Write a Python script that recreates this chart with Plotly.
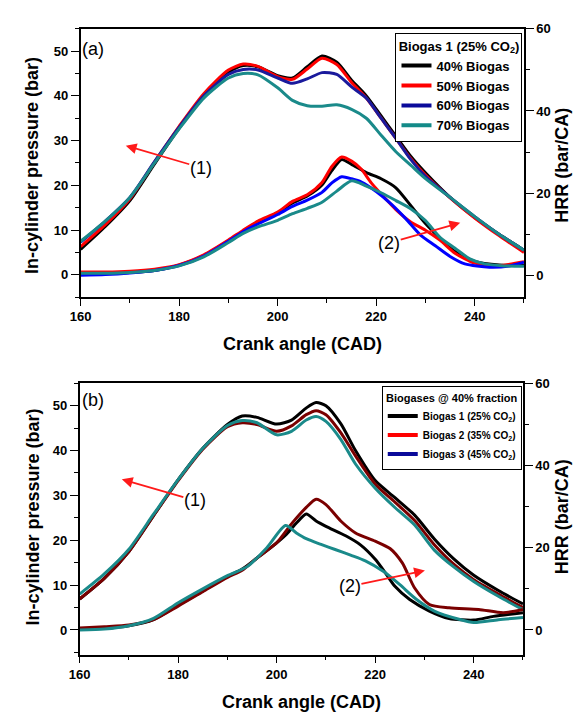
import plotly.graph_objects as go

W, H = 574, 716

# ---------------- Panel (a): Biogas 1 (25% CO2) at different fractions ----------------
a_legend_names = ["40% Biogas", "50% Biogas", "60% Biogas", "70% Biogas"]

# In-cylinder pressure (bar)
a_p_x = [160, 165, 170, 175, 180, 185, 190, 193, 196, 200, 203, 206, 209, 212, 215, 218, 221, 224, 227, 230, 235, 240, 245, 250]
a_p_40 = [5.7, 10.8, 16.6, 24.8, 32.8, 40.0, 45.3, 46.8, 46.5, 44.5, 44.0, 46.5, 48.9, 47.5, 43.5, 40.0, 35.5, 31.0, 26.5, 22.8, 17.3, 12.8, 9.0, 5.5]
a_p_50 = [6.3, 11.2, 17.0, 25.2, 33.2, 40.5, 45.8, 47.1, 46.6, 44.3, 43.7, 46.0, 48.4, 47.0, 43.0, 39.5, 35.0, 30.5, 26.0, 22.3, 17.2, 12.7, 8.7, 5.0]
a_p_60 = [7.3, 12.0, 17.3, 25.3, 33.0, 40.0, 44.8, 45.9, 45.8, 44.0, 42.8, 43.8, 45.2, 44.8, 42.0, 39.5, 35.0, 30.5, 25.8, 22.0, 17.3, 13.0, 9.0, 5.5]
a_p_70 = [7.5, 12.0, 17.3, 25.0, 32.6, 39.5, 44.0, 45.0, 44.7, 41.8, 39.0, 37.8, 37.7, 38.0, 37.0, 35.0, 31.2, 27.5, 24.5, 21.5, 17.3, 13.0, 9.0, 5.5]

# Heat release rate (bar/CA)
a_h40_x = [160, 165, 170, 175, 180, 185, 190, 193, 196, 200, 203, 206, 209, 211, 213, 215, 218, 221, 224, 227, 230, 233, 236, 240, 245, 250]
a_h40 = [0.5, 0.5, 0.7, 1.2, 2.5, 4.8, 8.4, 10.8, 13.0, 15.2, 17.6, 19.3, 22.0, 25.5, 28.2, 27.0, 25.0, 23.5, 21.3, 17.0, 12.6, 9.0, 5.8, 3.4, 2.5, 2.4]
a_h50_x = [160, 165, 170, 175, 180, 185, 190, 193, 196, 200, 203, 206, 209, 211, 213, 215, 217, 219, 222, 224, 227, 230, 233, 236, 240, 245, 250]
a_h50 = [0.8, 0.8, 1.0, 1.5, 2.6, 5.0, 8.6, 11.0, 13.2, 15.4, 18.0, 19.6, 22.6, 26.5, 28.8, 27.8, 25.8, 22.5, 18.5, 16.0, 13.0, 11.0, 8.5, 5.4, 3.0, 2.4, 3.3]
a_h60_x = [160, 165, 170, 175, 180, 185, 190, 193, 196, 200, 203, 206, 209, 211, 213, 215, 217, 220, 223, 226, 229, 232, 235, 238, 243, 247, 250]
a_h60 = [0.0, 0.2, 0.6, 1.2, 2.4, 4.7, 8.3, 10.6, 12.5, 14.8, 16.8, 18.3, 20.2, 22.5, 24.0, 23.5, 22.7, 20.4, 17.4, 13.8, 9.8, 7.2, 4.6, 2.8, 2.0, 2.3, 3.2]
a_h70_x = [160, 165, 170, 175, 180, 185, 190, 193, 196, 200, 203, 206, 209, 212, 215, 218, 221, 224, 227, 230, 233, 236, 239, 242, 246, 250]
a_h70 = [0.5, 0.5, 0.7, 1.2, 2.3, 4.5, 8.0, 10.2, 11.8, 13.4, 15.0, 16.3, 17.8, 20.5, 23.0, 21.7, 20.1, 18.2, 16.2, 13.3, 9.2, 6.6, 4.0, 2.8, 2.3, 2.2]

# ---------------- Panel (b): Biogases @ 40% fraction ----------------
b_legend_names = ["Biogas 1 (25% CO<sub>2</sub>)", "Biogas 2 (35% CO<sub>2</sub>)", "Biogas 3 (45% CO<sub>2</sub>)"]

b_p_x = [160, 165, 170, 175, 180, 185, 190, 193, 196, 200, 203, 206, 208, 210, 213, 216, 220, 224, 228, 232, 236, 240, 245, 250]
b_p_1 = [6.9, 11.5, 17.5, 25.5, 33.5, 40.5, 45.8, 47.7, 47.4, 45.9, 46.8, 49.5, 50.7, 50.0, 46.0, 40.0, 33.3, 29.5, 25.6, 20.3, 15.8, 12.2, 8.8, 5.8]
b_p_2 = [6.9, 11.5, 17.5, 25.5, 33.3, 40.3, 45.3, 46.2, 45.8, 44.3, 45.5, 48.0, 48.9, 48.0, 44.0, 38.8, 32.5, 28.5, 24.4, 19.0, 14.6, 11.2, 8.0, 5.0]
b_p_3 = [8.0, 12.5, 18.0, 25.8, 33.5, 40.5, 45.6, 46.7, 46.2, 43.5, 44.3, 46.8, 47.6, 46.5, 42.5, 37.0, 31.6, 27.3, 23.4, 17.8, 14.0, 10.8, 7.5, 4.5]

b_h1_x = [160, 165, 170, 175, 180, 185, 190, 193, 196, 199, 202, 204, 206, 208, 210, 214, 217, 220, 222, 224, 227, 231, 235, 240, 244, 250]
b_h1 = [0.2, 0.4, 1.0, 2.5, 6.0, 9.5, 13.0, 14.8, 17.5, 20.2, 23.3, 26.0, 28.2, 26.5, 25.2, 22.9, 20.7, 17.2, 14.0, 10.6, 7.4, 4.6, 2.8, 2.4, 3.3, 4.2]
b_h2_x = [160, 165, 170, 175, 180, 185, 190, 193, 196, 200, 203, 206, 208, 210, 213, 216, 220, 223, 225.5, 228, 231, 235, 241, 246, 250]
b_h2 = [0.5, 0.8, 1.2, 2.5, 5.8, 9.3, 12.8, 14.5, 17.5, 21.2, 25.8, 29.8, 31.8, 30.5, 26.5, 23.6, 21.6, 19.8, 16.3, 10.2, 6.2, 5.4, 5.0, 4.2, 5.0]
b_h3_x = [160, 165, 170, 175, 180, 185, 190, 194, 198, 201.8, 204, 206, 209, 212, 215, 218, 221.7, 225, 228.4, 232, 237, 240, 245, 250]
b_h3 = [0.0, 0.2, 1.0, 2.8, 6.6, 10.0, 13.2, 15.4, 20.0, 25.4, 23.6, 22.2, 20.8, 19.5, 18.2, 16.8, 14.2, 11.0, 7.4, 4.6, 2.6, 1.8, 2.5, 3.0]

x_ticks = [160, 180, 200, 220, 240]

# ---------------- helpers ----------------
FONT = "Liberation Sans Narrow, Arial Narrow, Liberation Sans, Arial"


def px_x(x):
    return x / W


def px_y(y):
    return 1 - y / H


fig = go.Figure()


def curve(x, y, color, xa, ya, width=3):
    fig.add_trace(go.Scatter(x=x, y=y, mode="lines", xaxis=xa, yaxis=ya,
                             line=dict(color=color, width=width, shape="spline", smoothing=0.7),
                             showlegend=False, hoverinfo="skip"))


# panel (a) colours
a_p_colors = ["#000000", "#ff0000", "#1a1a9c", "#1a8a8a"]
a_h_colors = ["#000000", "#ff0000", "#0000ff", "#1a8a8a"]
a_leg_colors = ["#000000", "#ff0000", "#0a0a9a", "#138a88"]

for ys, c in zip([a_p_40, a_p_50, a_p_60, a_p_70], a_p_colors):
    curve(a_p_x, ys, c, "x", "y")
for xs, ys, c in zip([a_h40_x, a_h50_x, a_h60_x, a_h70_x], [a_h40, a_h50, a_h60, a_h70], a_h_colors):
    curve(xs, ys, c, "x", "y2")

# panel (b) colours
b_colors = ["#000000", "#7a0000", "#1a8a8a"]
b_leg_colors = ["#000000", "#ff0000", "#0a0a9a"]
for ys, c in zip([b_p_1, b_p_2, b_p_3], b_colors):
    curve(b_p_x, ys, c, "x2", "y3")
for xs, ys, c in zip([b_h1_x, b_h2_x, b_h3_x], [b_h1, b_h2, b_h3], b_colors):
    curve(xs, ys, c, "x2", "y4")

# legend entries
for name, c in zip(a_legend_names, a_leg_colors):
    fig.add_trace(go.Scatter(x=[None], y=[None], mode="lines", name=name, xaxis="x", yaxis="y",
                             line=dict(color=c, width=4), legend="legend"))
for name, c in zip(b_legend_names, b_leg_colors):
    fig.add_trace(go.Scatter(x=[None], y=[None], mode="lines", name=name, xaxis="x2", yaxis="y3",
                             line=dict(color=c, width=4), legend="legend2"))

tickfont = dict(family=FONT, size=13, color="black", weight="bold")
common_x = dict(range=[160, 250], tickvals=x_ticks, ticks="outside", ticklen=7, tickwidth=1.3,
                minor=dict(dtick=10, tick0=160, ticks="outside", ticklen=4, tickwidth=1.3, tickcolor="black"),
                showline=True, linecolor="black", linewidth=1.5, mirror=True, showgrid=False, zeroline=False,
                tickfont=tickfont, tickcolor="black")
common_yl = dict(ticks="outside", ticklen=8, tickwidth=1.3, tickcolor="black",
                 minor=dict(dtick=5, tick0=0, ticks="outside", ticklen=4, tickwidth=1.3, tickcolor="black"),
                 showline=True, linecolor="black", linewidth=1.5, showgrid=False, zeroline=False,
                 tickfont=tickfont, tickvals=[0, 10, 20, 30, 40, 50])
common_yr = dict(ticks="outside", ticklen=8, tickwidth=1.3, tickcolor="black",
                 minor=dict(dtick=10, tick0=0, ticks="outside", ticklen=4, tickwidth=1.3, tickcolor="black"),
                 showline=True, linecolor="black", linewidth=1.5, showgrid=False, zeroline=False,
                 tickfont=tickfont, tickvals=[0, 20, 40, 60], side="right")

dom_xa = [px_x(71), px_x(523)]
dom_xb = [px_x(70), px_x(522)]
dom_ya = [px_y(293), px_y(22)]
dom_yb = [px_y(654), px_y(380)]

fig.update_layout(
    width=W, height=H, margin=dict(l=0, r=0, t=0, b=0),
    paper_bgcolor="white", plot_bgcolor="white",
    xaxis=dict(domain=dom_xa, anchor="y", **common_x),
    yaxis=dict(domain=dom_ya, anchor="x", range=[-5, 55], **common_yl),
    yaxis2=dict(anchor="x", overlaying="y", range=[-5.3, 60], **common_yr),
    xaxis2=dict(domain=dom_xb, anchor="y3", **common_x),
    yaxis3=dict(domain=dom_yb, anchor="x2", range=[-5.5, 55], **common_yl),
    yaxis4=dict(anchor="x2", overlaying="y3", range=[-6.0, 60], **common_yr),
    legend=dict(x=px_x(392), y=px_y(26), xanchor="left", yanchor="top",
                bgcolor="white", bordercolor="black", borderwidth=1,
                font=dict(family=FONT, size=13, color="black", weight="bold"),
                title=dict(text="Biogas 1 (25% CO<sub>2</sub>)", side="top center",
                           font=dict(family=FONT, size=13, color="black", weight="bold")),
                tracegroupgap=0, itemwidth=30),
    legend2=dict(x=px_x(378), y=px_y(383), xanchor="left", yanchor="top",
                 bgcolor="white", bordercolor="black", borderwidth=1,
                 font=dict(family=FONT, size=10, color="black", weight="bold"),
                 title=dict(text="Biogases @ 40% fraction", side="top center",
                            font=dict(family=FONT, size=11, color="black", weight="bold")),
                 tracegroupgap=0, itemwidth=30),
)

ann = []
title_font = dict(family=FONT, size=18, color="black", weight="bold")
for yc_x, yc_y, ttl in [(297, 340, "Crank angle (CAD)"), (296, 702, "Crank angle (CAD)")]:
    ann.append(dict(x=px_x(yc_x), y=px_y(yc_y), xref="paper", yref="paper", text=ttl,
                    showarrow=False, font=title_font, xanchor="center", yanchor="middle"))
for cx, cy in [(22, 160), (22, 515)]:
    ann.append(dict(x=px_x(cx), y=px_y(cy), xref="paper", yref="paper", text="In-cylinder pressure (bar)",
                    showarrow=False, font=title_font, textangle=-90, xanchor="center", yanchor="middle"))
for cx, cy in [(562, 160), (562, 515)]:
    ann.append(dict(x=px_x(cx), y=px_y(cy), xref="paper", yref="paper", text="HRR (bar/CA)",
                    showarrow=False, font=title_font, textangle=-90, xanchor="center", yanchor="middle"))

label_font = dict(family="Liberation Sans, Arial", size=18, color="black")
for lx, ly, t in [(84, 42, "(a)"), (84, 397, "(b)")]:
    ann.append(dict(x=px_x(lx), y=px_y(ly), xref="paper", yref="paper", text=t,
                    showarrow=False, font=label_font, xanchor="center", yanchor="middle"))

# labelled red arrows: (arrow head px, text centre px, label)
for hx, hy, tx, ty, t in [(117, 140, 192, 162, "(1)"), (458, 218, 387, 238, "(2)"),
                          (113, 477, 186, 498, "(1)"), (422, 569, 347, 585, "(2)")]:
    ann.append(dict(x=px_x(hx), y=px_y(hy), xref="paper", yref="paper", text=t,
                    showarrow=True, ax=tx - hx, ay=ty - hy, arrowhead=2, arrowsize=1.2, arrowwidth=1.8,
                    arrowcolor="#ff1a1a", font=label_font, borderpad=0))

fig.update_layout(annotations=ann)

fig.write_html("out.html")
